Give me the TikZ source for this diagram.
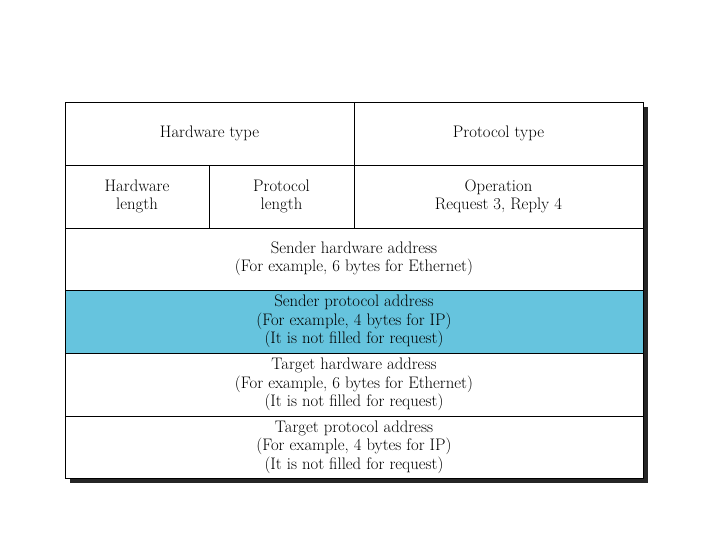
\documentclass[tikz,border=0pt]{standalone}
\usepackage{fontspec}
\usepackage{tikz}
\definecolor{arpblue}{RGB}{102,196,222}
\tikzset{
  field/.style={align=center,font=\fontsize{16.7}{18.5}\selectfont}
}
\begin{document}
\begin{tikzpicture}[x=1pt,y=1pt]
\useasboundingbox (0,0) rectangle (720,540);
%shadow
\fill[black!85] (70,57) rectangle (648,433);
%rows
\draw[fill=white] (65,375) rectangle (643,438);
\draw[fill=white] (65,312) rectangle (643,375);
\draw[fill=white] (65,250) rectangle (643,312);
\draw[fill=arpblue] (65,187) rectangle (643,250);
\draw[fill=white] (65,124) rectangle (643,187);
\draw[fill=white] (65,62) rectangle (643,124);
%column lines
\draw (354,312) -- (354,438);
\draw (209,312) -- (209,375);
%fields
\node[field] (hwtype) at (209.5,406.5) {Hardware type};
\node[field] (prtype) at (498.5,406.5) {Protocol type};
\node[field] (hwlen) at (137,343.5) {Hardware\\length};
\node[field] (prlen) at (281.5,343.5) {Protocol\\length};
\node[field] (oper) at (498.5,343.5) {Operation\\Request 3, Reply 4};
\node[field] (sha) at (354,281) {Sender hardware address\\(For example, 6 bytes for Ethernet)};
\node[field] (spa) at (354,218.5) {Sender protocol address\\(For example, 4 bytes for IP)\\(It is not filled for request)};
\node[field] (tha) at (354,155.5) {Target hardware address\\(For example, 6 bytes for Ethernet)\\(It is not filled for request)};
\node[field] (tpa) at (354,93) {Target protocol address\\(For example, 4 bytes for IP)\\(It is not filled for request)};
\end{tikzpicture}
\end{document}
